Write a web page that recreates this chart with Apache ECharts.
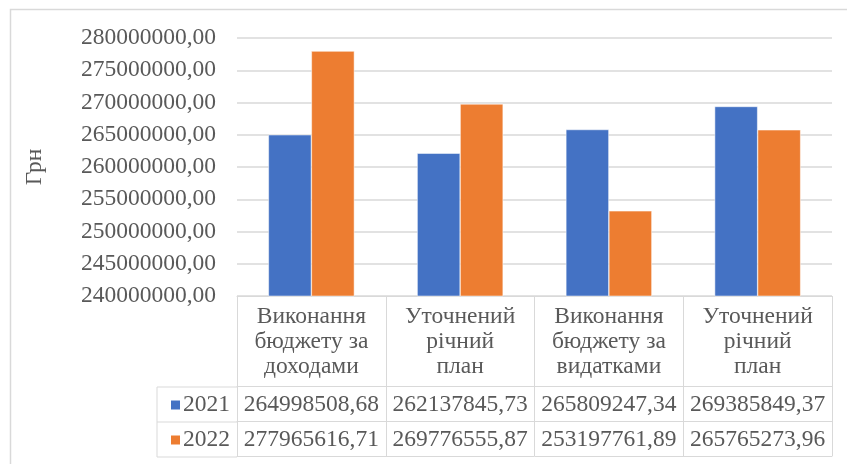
<!DOCTYPE html>
<html>
<head>
<meta charset="utf-8">
<script src="https://cdn.jsdelivr.net/npm/echarts@6/dist/echarts.min.js"></script>
<style>html,body{margin:0;padding:0;background:#fff;}#c{width:847px;height:464px;}</style>
</head>
<body>
<div id="c"></div>
<script>
var categories = ['Виконання\nбюджету за\nдоходами', 'Уточнений\nрічний\nплан', 'Виконання\nбюджету за\nвидатками', 'Уточнений\nрічний\nплан'];
var seriesNames = ['2021', '2022'];
var values2021 = [264998508.68, 262137845.73, 265809247.34, 269385849.37];
var values2022 = [277965616.71, 269776555.87, 253197761.89, 265765273.96];
var yMin = 240000000, yMax = 280000000, yStep = 5000000;
var yAxisName = 'Грн';

function fmt(v) { return v.toFixed(2).replace('.', ','); }

var FONT = 'Liberation Serif';
var TXT = '#595959';
var LINE = '#d9d9d9';
var FS = 23.5;

var chart = echarts.init(document.getElementById('c'));

function tableAxis(idx, offset, labels) {
  return {
    type: 'category', gridIndex: 0, position: 'bottom', offset: offset,
    data: labels,
    axisLine: { show: true, lineStyle: { color: LINE, width: 1 } },
    axisTick: { show: false },
    axisLabel: { show: true, interval: 0, margin: 6, color: TXT, fontFamily: FONT, fontSize: FS, lineHeight: 25 },
    splitLine: { show: false }
  };
}

var option = {
  backgroundColor: '#fff',
  animation: false,
  color: ['#4472C4', '#ED7D31'],
  grid: { left: 237, right: 15, top: 38, bottom: 168 },
  legend: {
    data: seriesNames, orient: 'vertical', left: 164, top: 388,
    icon: 'rect', itemWidth: 11, itemHeight: 11, itemGap: 11,
    textStyle: { color: TXT, fontFamily: FONT, fontSize: FS, lineHeight: 24, padding: [0, 0, 0, -3] },
    selectedMode: false
  },
  xAxis: [
    {
      type: 'category', data: categories, position: 'bottom',
      axisLine: { show: true, lineStyle: { color: LINE, width: 1 } },
      axisTick: { show: true, length: 160, lineStyle: { color: LINE, width: 1 } },
      axisLabel: { interval: 0, margin: 8, color: TXT, fontFamily: FONT, fontSize: FS, lineHeight: 25 }
    },
    tableAxis(1, 90, values2021.map(fmt)),
    tableAxis(2, 125, values2022.map(fmt)),
    {
      type: 'category', position: 'bottom', offset: 160, data: categories,
      axisLine: { show: true, lineStyle: { color: LINE, width: 1 } },
      axisTick: { show: false }, axisLabel: { show: false }
    }
  ],
  yAxis: {
    type: 'value', min: yMin, max: yMax, interval: yStep,
    name: yAxisName, nameLocation: 'middle', nameRotate: 90, nameGap: 190,
    nameTextStyle: { color: TXT, fontFamily: FONT, fontSize: FS },
    axisLine: { show: false }, axisTick: { show: false },
    axisLabel: { color: TXT, fontFamily: FONT, fontSize: FS, margin: 21, formatter: function (v) { return v + ',00'; } },
    splitLine: { lineStyle: { color: LINE, width: 1.5 } }
  },
  series: [
    { name: seriesNames[0], type: 'bar', data: values2021, barWidth: 43, barGap: '0%', itemStyle: { borderColor: '#fff', borderWidth: 0.5 } },
    { name: seriesNames[1], type: 'bar', data: values2022, barWidth: 43, barGap: '0%', itemStyle: { borderColor: '#fff', borderWidth: 0.5 } }
  ],
  graphic: [
    { type: 'rect', shape: { x: 10.5, y: 9.5, width: 860, height: 480 }, style: { fill: 'none', stroke: LINE, lineWidth: 1.5 }, silent: true },
    { type: 'line', shape: { x1: 157, y1: 387, x2: 237, y2: 387 }, style: { stroke: LINE, lineWidth: 1 } },
    { type: 'line', shape: { x1: 157, y1: 422, x2: 237, y2: 422 }, style: { stroke: LINE, lineWidth: 1 } },
    { type: 'line', shape: { x1: 157, y1: 457, x2: 237, y2: 457 }, style: { stroke: LINE, lineWidth: 1 } },
    { type: 'line', shape: { x1: 157, y1: 387, x2: 157, y2: 457 }, style: { stroke: LINE, lineWidth: 1 } }
  ]
};
chart.setOption(option);
</script>
</body>
</html>
